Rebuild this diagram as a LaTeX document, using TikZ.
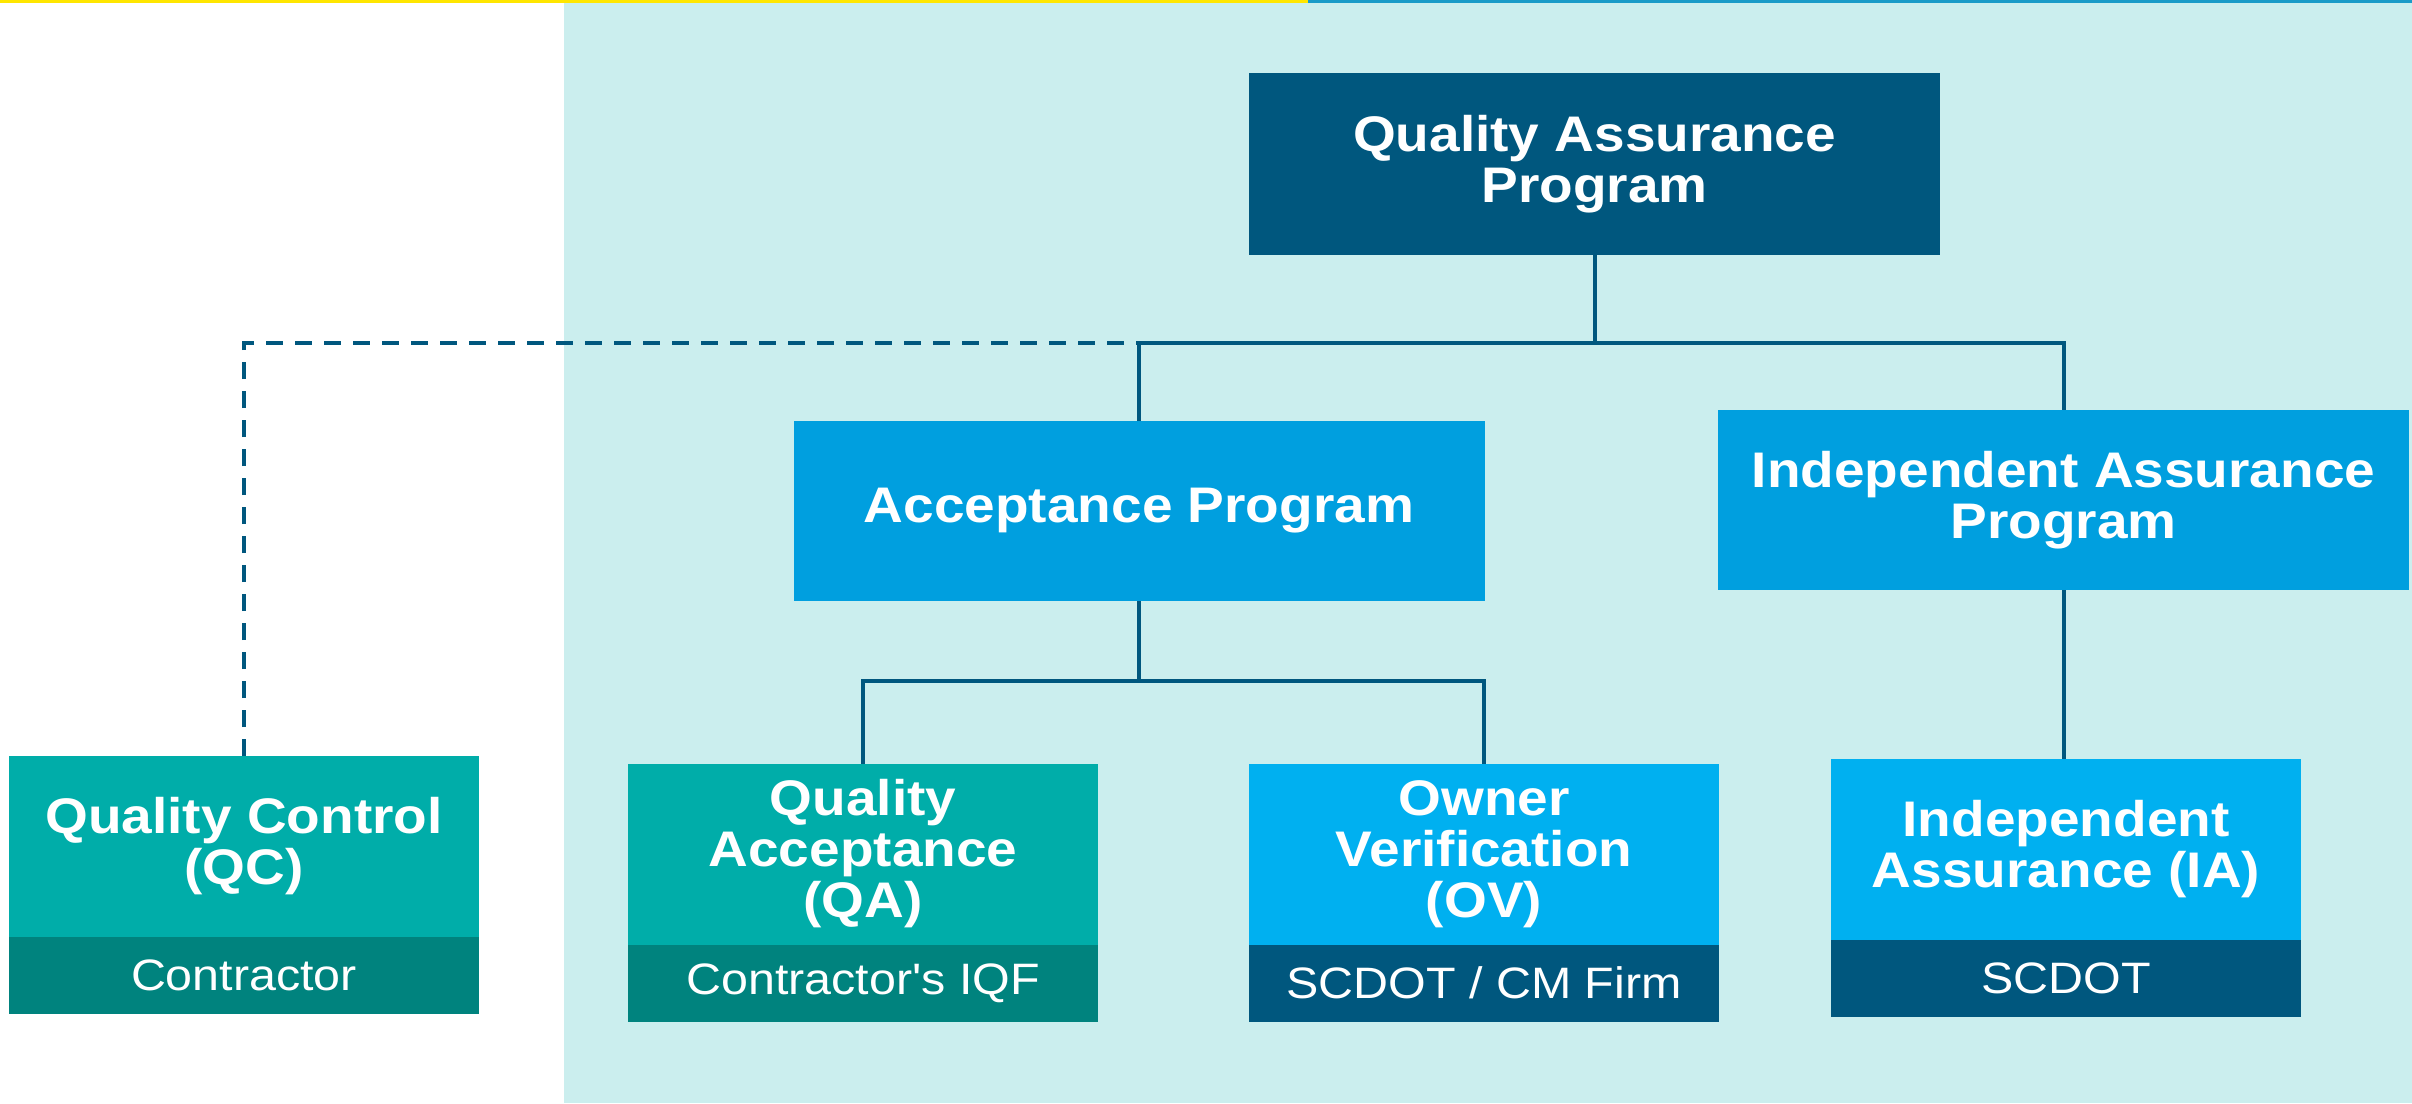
\documentclass[tikz,border=0pt]{standalone}
\usepackage{fontspec}
\newfontfamily\boxfont{Liberation Sans}[FakeStretch=1.1]
\usetikzlibrary{positioning}
\definecolor{navy}{HTML}{00577E}
\definecolor{skyblue}{HTML}{009FDF}
\definecolor{brightblue}{HTML}{00B0F0}
\definecolor{qcteal}{HTML}{00ADA9}
\definecolor{darkteal}{HTML}{00837E}
\definecolor{bgcyan}{HTML}{CBEEEE}
\definecolor{topyellow}{HTML}{FFE600}
\definecolor{topblue}{HTML}{1A9BC8}
\newcommand{\linkwidth}{2pt}
\newcommand{\boxwidth}{235pt}

\tikzset{
  orgbox/.style={fill=#1, text=white, inner sep=0pt, outer sep=0pt, align=center,
    minimum width=\boxwidth, minimum height=90.5pt,
    font=\boxfont\bfseries\fontsize{25}{25.5}\selectfont},
  programbox/.style={orgbox=#1, minimum width=345.5pt, minimum height=90pt},
  subbox/.style={fill=#1, text=white, inner sep=0pt, outer sep=0pt,
    minimum width=\boxwidth, minimum height=38.5pt,
    font=\boxfont\fontsize{22}{24}\selectfont},
  link/.style={draw=navy, line width=\linkwidth},
  qclink/.style={link, dash pattern=on 8.5pt off 6pt},
}

\begin{document}
\begin{tikzpicture}[x=0.5pt, y=-0.5pt]
\useasboundingbox (0,0) rectangle (2412,1103);
% backdrop
\fill[bgcyan] (564,0) rectangle (2412,1103);
\fill[topyellow] (0,0) rectangle (1308,3);
\fill[topblue] (1308,0) rectangle (2412,3);
% programs
\node[programbox=navy, minimum height=91pt] (qap) at (1594.5,164) {Quality Assurance\\Program};
\node[programbox=skyblue] (ap) at (1139,511) {Acceptance Program};
\node[programbox=skyblue] (iap) at (2063.5,500) {Independent Assurance\\Program};
% functions
\node[orgbox=qcteal] (qc) at (244,846.5) {Quality Control\\(QC)};
\node[subbox=darkteal, below=0pt of qc] (qcsub) {Contractor};
\node[orgbox=qcteal] (qa) at (863,854) {Quality\\Acceptance\\(QA)};
\node[subbox=darkteal, below=0pt of qa] (qasub) {Contractor's IQF};
\node[orgbox=brightblue] (ov) at (1484,854) {Owner\\Verification\\(OV)};
\node[subbox=navy, below=0pt of ov] (ovsub) {SCDOT / CM Firm};
\node[orgbox=brightblue] (ia) at (2066,849) {Independent\\Assurance (IA)};
\node[subbox=navy, below=0pt of ia] (iasub) {SCDOT};
% connectors
\coordinate (topbus) at (0,343);
\coordinate (midbus) at (0,681);
\draw[link] (qap.south) -- (qap.south |- topbus);
\draw[link] (ap.north) -- (ap.north |- topbus) -- (iap.north |- topbus) -- (iap.north);
\draw[qclink] (qc.north) -- (qc.north |- topbus) -- (ap.north |- topbus);
\draw[link] (ap.south) -- (ap.south |- midbus);
\draw[link] (qa.north) -- (qa.north |- midbus) -- (ov.north |- midbus) -- (ov.north);
\draw[link] (iap.south) -- (iap.south |- ia.north);
\end{tikzpicture}
\end{document}
